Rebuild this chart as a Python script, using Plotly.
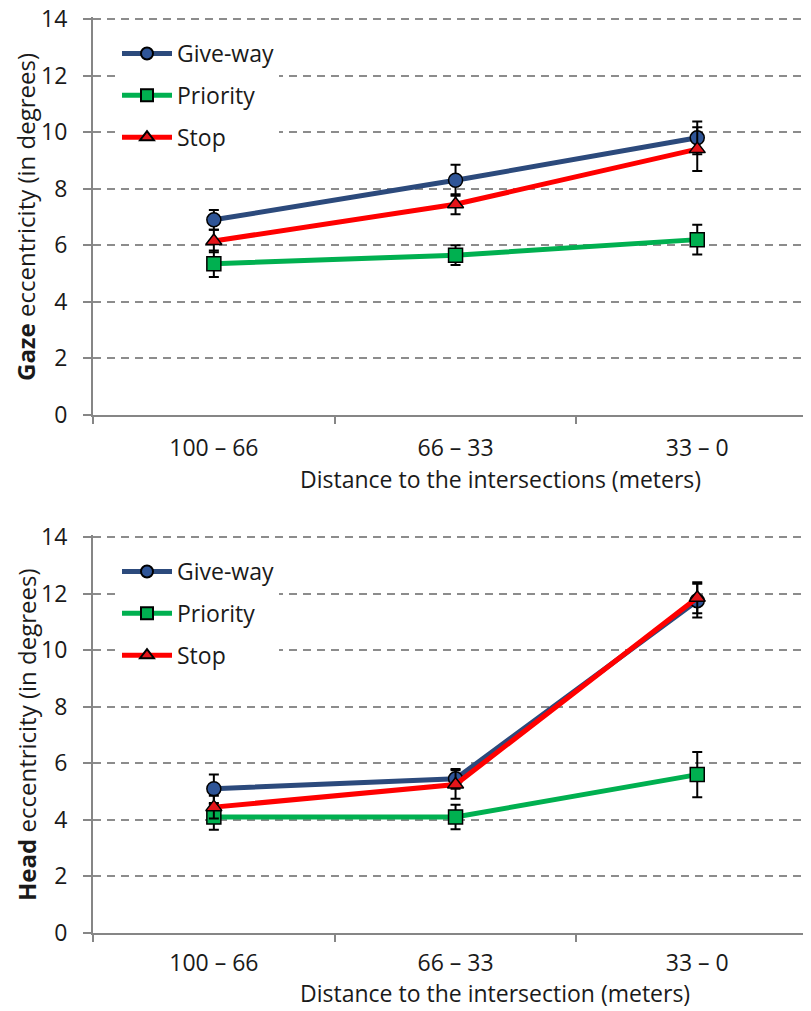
import plotly.graph_objects as go

categories = ["100 – 66", "66 – 33", "33 – 0"]
series_names = ["Give-way", "Priority", "Stop"]

gaze_giveway = [6.9, 8.3, 9.8]
gaze_giveway_err = [0.35, 0.55, 0.58]
gaze_priority = [5.35, 5.65, 6.2]
gaze_priority_err = [0.47, 0.35, 0.53]
gaze_stop = [6.15, 7.45, 9.4]
gaze_stop_err = [0.4, 0.35, 0.77]

head_giveway = [5.1, 5.45, 11.75]
head_giveway_err = [0.5, 0.35, 0.6]
head_priority = [4.1, 4.1, 5.6]
head_priority_err = [0.45, 0.43, 0.8]
head_stop = [4.45, 5.25, 11.85]
head_stop_err = [0.4, 0.5, 0.55]

y_ticks = [0, 2, 4, 6, 8, 10, 12, 14]

# page has an 8px body margin; the figure is sized to fill the rest of the window
OFF = 8
W, H = 811 - OFF, 1011 - OFF

def px(x):
    return (x - OFF) / W

def py(y):
    return 1 - (y - OFF) / H

line_colors = {"Give-way": "#2C4A7C", "Priority": "#00B050", "Stop": "#FF0000"}
marker_colors = {"Give-way": "#2F5597", "Priority": "#00B050", "Stop": "#E3151A"}
symbols = {"Give-way": "circle", "Priority": "square", "Stop": "triangle-up"}
FONT = "Open Sans"
FS_TICK = 23
FS_LEG = 23
FS_YTITLE = 24
FS_XTITLE = 23
AX = "#868686"
TXT = "#1a1a1a"

fig = go.Figure()
x_idx = list(range(len(categories)))

panels = [
    ("x", "y", "legend", [gaze_giveway, gaze_priority, gaze_stop],
     [gaze_giveway_err, gaze_priority_err, gaze_stop_err]),
    ("x2", "y2", "legend2", [head_giveway, head_priority, head_stop],
     [head_giveway_err, head_priority_err, head_stop_err]),
]
for xa, ya, lg, vals, errs in panels:
    for name, v, e in zip(series_names, vals, errs):
        fig.add_trace(go.Scatter(
            x=x_idx, y=v, name=name, mode="lines+markers",
            xaxis=xa, yaxis=ya, legend=lg, legendgroup=lg + name,
            line=dict(color=line_colors[name], width=5),
            marker=dict(symbol=symbols[name], size=14, color=marker_colors[name],
                        line=dict(color="black", width=1.5)),
            error_y=dict(type="data", array=e, visible=True, color="black",
                         thickness=2, width=5),
        ))

PPU = (415 - 19) / 14.0   # pixels per y unit in the reference
YMAX = 14.08
top_dom = [py(415), py(415 - YMAX * PPU)]
bot_dom = [py(933), py(933 - YMAX * PPU)]
x_dom = [px(93), 1.0]
xr = [-0.5, -0.5 + (811 - 93) / 241.7]

def xaxis(anchor, standoff):
    return dict(domain=x_dom, range=xr, anchor=anchor, tickvals=x_idx, ticktext=categories,
                ticks="", showgrid=False, zeroline=False, showline=True, linecolor=AX,
                linewidth=2, tickfont=dict(family=FONT, size=FS_TICK, color=TXT),
                ticklabelstandoff=standoff, automargin=False,
                minor=dict(tick0=-0.5, dtick=1, ticks="outside", ticklen=7,
                           tickcolor=AX, tickwidth=2, showgrid=False))

def yaxis(dom, anchor):
    return dict(domain=dom, range=[0, YMAX], anchor=anchor, tickvals=y_ticks,
                ticks="outside", ticklen=8, tickcolor=AX, tickwidth=2,
                showline=True, linecolor=AX, linewidth=2, zeroline=False,
                showgrid=True, gridcolor="#8C8C8C", griddash="8px,6px", gridwidth=1.5,
                tickfont=dict(family=FONT, size=FS_TICK, color=TXT), ticklabelstandoff=11,
                ticklabeloverflow="allow", automargin=False)

def legend(ytop):
    return dict(x=px(117), y=py(ytop), xanchor="left", yanchor="top",
                bgcolor="white", borderwidth=0, font=dict(family=FONT, size=FS_LEG, color=TXT),
                tracegroupgap=9, itemsizing="constant", itemwidth=50,
                traceorder="grouped")

fig.update_layout(
    width=W, height=H, margin=dict(l=0, r=0, t=0, b=0),
    paper_bgcolor="white", plot_bgcolor="white", showlegend=True,
    xaxis=xaxis("y", 11), yaxis=yaxis(top_dom, "x"),
    xaxis2=xaxis("y2", 8), yaxis2=yaxis(bot_dom, "x2"),
    legend=legend(32), legend2=legend(550),
    annotations=[
        dict(text="<b>Gaze</b> eccentricity (in degrees)", textangle=-90, xref="paper",
             yref="paper", x=px(26), y=py(217), showarrow=False,
             xanchor="center", yanchor="middle", font=dict(family=FONT, size=FS_YTITLE, color=TXT)),
        dict(text="<b>Head</b> eccentricity (in degrees)", textangle=-90, xref="paper",
             yref="paper", x=px(26), y=py(735), showarrow=False,
             xanchor="center", yanchor="middle", font=dict(family=FONT, size=FS_YTITLE, color=TXT)),
        dict(text="Distance to the intersections (meters)", xref="paper", yref="paper",
             x=px(500), y=py(479), showarrow=False, xanchor="center", yanchor="middle",
             font=dict(family=FONT, size=FS_XTITLE, color=TXT)),
        dict(text="Distance to the intersection (meters)", xref="paper", yref="paper",
             x=px(495), y=0.0, showarrow=False, xanchor="center", yanchor="bottom",
             font=dict(family=FONT, size=FS_XTITLE, color=TXT)),
    ],
)

fig.write_html("out.html")
